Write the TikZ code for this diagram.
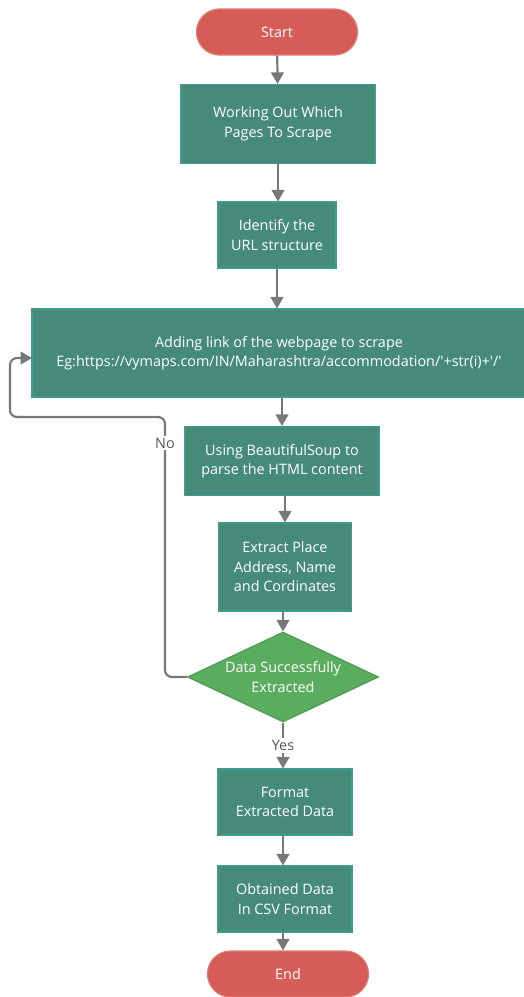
\documentclass[tikz,border=0pt]{standalone}
\usepackage{fontspec}
\setmainfont{Open Sans}
\usetikzlibrary{arrows,shapes.geometric}
\definecolor{boxteal}{HTML}{468A7A}
\definecolor{boxedge}{HTML}{3E9C8C}
\definecolor{termred}{HTML}{D65D57}
\definecolor{termedge}{HTML}{E27A73}
\definecolor{decgreen}{HTML}{5AAC5E}
\definecolor{decedge}{HTML}{4E9C55}
\definecolor{arrowgray}{HTML}{787878}
\definecolor{lblgray}{HTML}{555555}

\begin{document}
\begin{tikzpicture}[x=1pt, y=-1pt]
						\tikzstyle{every node}=[font=\fontsize{14.4}{19.5}\selectfont, text=white, align=center, line width = 1.2pt]
						\tikzstyle{term}=[fill=termred, draw=termedge, rounded corners=23pt, minimum width=161pt, minimum height=46pt]
						\tikzstyle{proc}=[fill=boxteal, draw=boxedge, inner sep=0pt]
						\tikzstyle{dec}=[diamond, fill=decgreen, draw=decedge, inner sep=0pt, minimum width=191pt, minimum height=90pt]
						\tikzstyle{lbl}=[fill=white, text=lblgray, inner sep=2pt]
						\tikzstyle{flow}=[draw=arrowgray, line width = 2.2pt, -triangle 60]
						\useasboundingbox (0,0) rectangle (523,997);
						\path (277,32)  node[term] (start) {Start};
						\path (278,124) node[proc, minimum width=194pt, minimum height=79pt] (pages) {Working Out Which\\Pages To Scrape};
						\path (277,235) node[proc, minimum width=118pt, minimum height=66pt] (url) {Identify the\\URL structure};
						\path (279,353) node[proc, minimum width=494pt, minimum height=88pt] (link) {Adding link of the webpage to scrape\\Eg:https://vymaps.com/IN/Maharashtra/accommodation/\textquotesingle+str(i)+\textquotesingle/\textquotesingle};
						\path (282,461) node[proc, minimum width=194pt, minimum height=69pt] (soup) {Using BeautifulSoup to\\parse the HTML content};
						\path (285,567) node[proc, minimum width=133pt, minimum height=88pt] (extract) {Extract Place\\Address, Name\\and Cordinates};
						\path (283,677) node[dec] (check) {};
						\path (check)   node (checktxt) {Data Successfully\\Extracted};
						\path (285,802) node[proc, minimum width=134pt, minimum height=66pt] (format) {Format\\Extracted Data};
						\path (285,899) node[proc, minimum width=134pt, minimum height=66pt] (csv) {Obtained Data\\In CSV Format};
						\path (288,974) node[term] (stop) {End};
						\coordinate (back) at (32,358);
						\draw[flow] (start) -- (pages);
						\draw[flow] (pages) -- (url.north -| pages);
						\draw[flow] (url) -- (link.north -| url);
						\draw[flow] (soup.north |- link.south) -- (soup);
						\draw[flow] (extract.north |- soup.south) -- (extract);
						\draw[flow] (check.north |- extract.south) -- (check);
						\draw[flow] (check.south) -- node[lbl] (yes) {Yes} (format.north -| check);
						\draw[flow] (format.south -| check) -- (csv.north -| check);
						\draw[flow] (csv.south -| check) -- (stop.north -| check);
						\draw[flow, rounded corners=7pt] (check.west) -- (165,677) -- node[lbl, pos=0.9] (no) {No} (165,417) -- (10,417) -- (10,358) -- (back);
		    	\end{tikzpicture}
\end{document}
